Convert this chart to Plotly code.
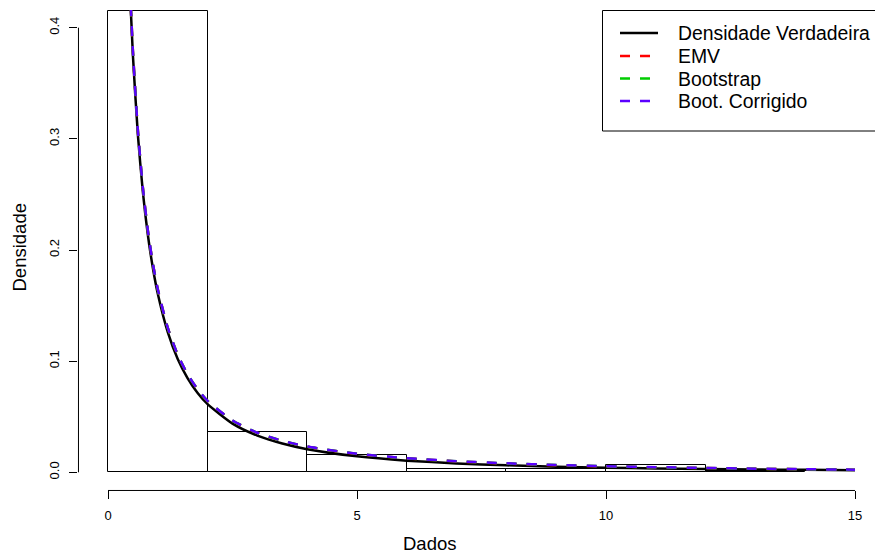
import plotly.graph_objects as go

# Histogram of the sample (density scale), bins of width 2
bin_edges = [0, 2, 4, 6, 8, 10, 12, 14]
hist_density = [0.432, 0.0365, 0.0158, 0.0030, 0.0033, 0.0066, 0.0015]

# Density curves evaluated on a grid
x_grid = [0.44, 0.5, 0.6, 0.7, 0.8, 0.9, 1.0, 1.2, 1.4, 1.6, 1.8, 2.0, 2.5, 3.0, 3.5,
          4, 5, 6, 7, 8, 9, 10, 11, 12, 13, 14, 15]
dens_true = [0.4334, 0.3752, 0.3036, 0.2522, 0.2137, 0.1841, 0.1606, 0.1261, 0.1020,
             0.0846, 0.0714, 0.0613, 0.0438, 0.0330, 0.0259, 0.0208, 0.0144, 0.0105,
             0.0080, 0.0063, 0.0051, 0.0042, 0.0035, 0.0030, 0.0026, 0.0022, 0.0019]
dens_emv = [0.4372, 0.3790, 0.3074, 0.2560, 0.2175, 0.1879, 0.1644, 0.1299, 0.1056,
            0.0879, 0.0745, 0.0641, 0.0464, 0.0354, 0.0282, 0.0230, 0.0165, 0.0125,
            0.0098, 0.0079, 0.0064, 0.0053, 0.0045, 0.0038, 0.0032, 0.0027, 0.0023]
dens_boot = [0.4373, 0.3791, 0.3075, 0.2561, 0.2176, 0.1880, 0.1645, 0.1300, 0.1057,
             0.0880, 0.0746, 0.0642, 0.0465, 0.0355, 0.0283, 0.0231, 0.0166, 0.0126,
             0.0099, 0.0080, 0.0065, 0.0054, 0.0045, 0.0038, 0.0032, 0.0027, 0.0023]
dens_corr = [0.4374, 0.3792, 0.3076, 0.2562, 0.2177, 0.1881, 0.1646, 0.1301, 0.1058,
             0.0881, 0.0747, 0.0643, 0.0466, 0.0356, 0.0284, 0.0232, 0.0167, 0.0127,
             0.0100, 0.0081, 0.0066, 0.0055, 0.0046, 0.0039, 0.0033, 0.0028, 0.0024]

legend_labels = ["Densidade Verdadeira", "EMV", "Bootstrap", "Boot. Corrigido"]
x_ticks = [0, 5, 10, 15]
y_ticks = [0.0, 0.1, 0.2, 0.3, 0.4]
y_tick_text = ["0.0", "0.1", "0.2", "0.3", "0.4"]

FONT = "Liberation Sans, Arial, Helvetica, sans-serif"
W, H = 875, 554
ML, MR, MT, MB = 78, 0, 10, 64
PW, PH = W - ML - MR, H - MT - MB

# axis ranges extend 4% beyond the data limits
y_lo, y_hi = 0.0, 0.4
y_pad = 0.04 * (y_hi - y_lo)
y_range = [y_lo - y_pad * 0.995, y_hi + y_pad * 0.995]
x_scale = (855 - 108) / 15.0
x_range = [-(108 - ML) / x_scale, (W - MR - 108) / x_scale]


def px_x(p):
    return (p - ML) / PW


def px_y(p):
    return (H - MB - p) / PH


# bars taller than the panel are cut at its upper edge
bar_top = y_range[1] - 0.0005
bar_h = [min(d, bar_top) for d in hist_density]
bar_mid = [(a + b) / 2 for a, b in zip(bin_edges[:-1], bin_edges[1:])]
bar_w = [b - a for a, b in zip(bin_edges[:-1], bin_edges[1:])]

fig = go.Figure()
fig.add_trace(go.Bar(
    x=bar_mid, y=bar_h, width=bar_w,
    marker=dict(color="rgba(255,255,255,0)", line=dict(color="black", width=1)),
    showlegend=False, hoverinfo="skip",
))

curves = [
    (dens_true, "black", "solid"),
    (dens_emv, "#FF0000", "10px,10px"),
    (dens_boot, "#00CD00", "10px,10px"),
    (dens_corr, "#5B00FF", "10px,10px"),
]
for (yv, col, dash), name in zip(curves, legend_labels):
    fig.add_trace(go.Scatter(
        x=x_grid, y=yv, mode="lines", name=name,
        line=dict(color=col, width=2.5, dash=dash, shape="spline", smoothing=0.6),
        showlegend=False, hoverinfo="skip",
    ))

shapes = []
# axis lines spanning first to last tick
shapes.append(dict(type="line", xref="x", yref="paper", x0=x_ticks[0], x1=x_ticks[-1],
                   y0=-0.001, y1=-0.001, line=dict(color="black", width=1)))
shapes.append(dict(type="line", xref="paper", yref="y", x0=0.0006, x1=0.0006,
                   y0=y_ticks[0], y1=y_ticks[-1], line=dict(color="black", width=1)))

# legend box and samples
shapes.append(dict(type="rect", xref="paper", yref="paper",
                   x0=px_x(602.5), x1=px_x(905), y0=px_y(131), y1=px_y(10.5),
                   line=dict(color="black", width=1), fillcolor="white", layer="above"))
row_y = [33, 56, 78.5, 101]
annotations = []
for (yv, col, dash), name, ry in zip(curves, legend_labels, row_y):
    shapes.append(dict(type="line", xref="paper", yref="paper",
                       x0=px_x(620), x1=px_x(658), y0=px_y(ry), y1=px_y(ry),
                       line=dict(color=col, width=2.5, dash=dash), layer="above"))
    annotations.append(dict(text=name, xref="paper", yref="paper",
                            x=px_x(677), y=px_y(ry), xanchor="left", yanchor="middle",
                            showarrow=False, borderpad=0,
                            font=dict(family=FONT, size=19.4, color="black")))

annotations.append(dict(text="Dados", xref="paper", yref="paper", x=px_x(429), y=px_y(543),
                        xanchor="center", yanchor="middle", showarrow=False, borderpad=0,
                        font=dict(family=FONT, size=18.5, color="black")))
annotations.append(dict(text="Densidade", xref="paper", yref="paper", x=px_x(18.5), y=px_y(248),
                        xanchor="center", yanchor="middle", textangle=-90, showarrow=False,
                        borderpad=0, font=dict(family=FONT, size=18.5, color="black")))

fig.update_layout(
    width=W, height=H,
    margin=dict(l=ML, r=MR, t=MT, b=MB, pad=0),
    plot_bgcolor="white", paper_bgcolor="white",
    bargap=0,
    shapes=shapes, annotations=annotations,
    font=dict(family=FONT, color="black"),
    xaxis=dict(range=x_range, tickvals=x_ticks, ticktext=[str(t) for t in x_ticks],
               ticks="outside", ticklen=8, tickwidth=1, tickcolor="black",
               showgrid=False, zeroline=False, showline=False,
               tickfont=dict(family=FONT, size=13, color="black"), ticklabelstandoff=5),
    yaxis=dict(range=y_range, tickvals=y_ticks, ticktext=y_tick_text, tickangle=-90,
               ticks="outside", ticklen=8, tickwidth=1, tickcolor="black",
               showgrid=False, zeroline=False, showline=False,
               tickfont=dict(family=FONT, size=13, color="black"), ticklabelstandoff=5),
)

fig.write_html("out.html")
